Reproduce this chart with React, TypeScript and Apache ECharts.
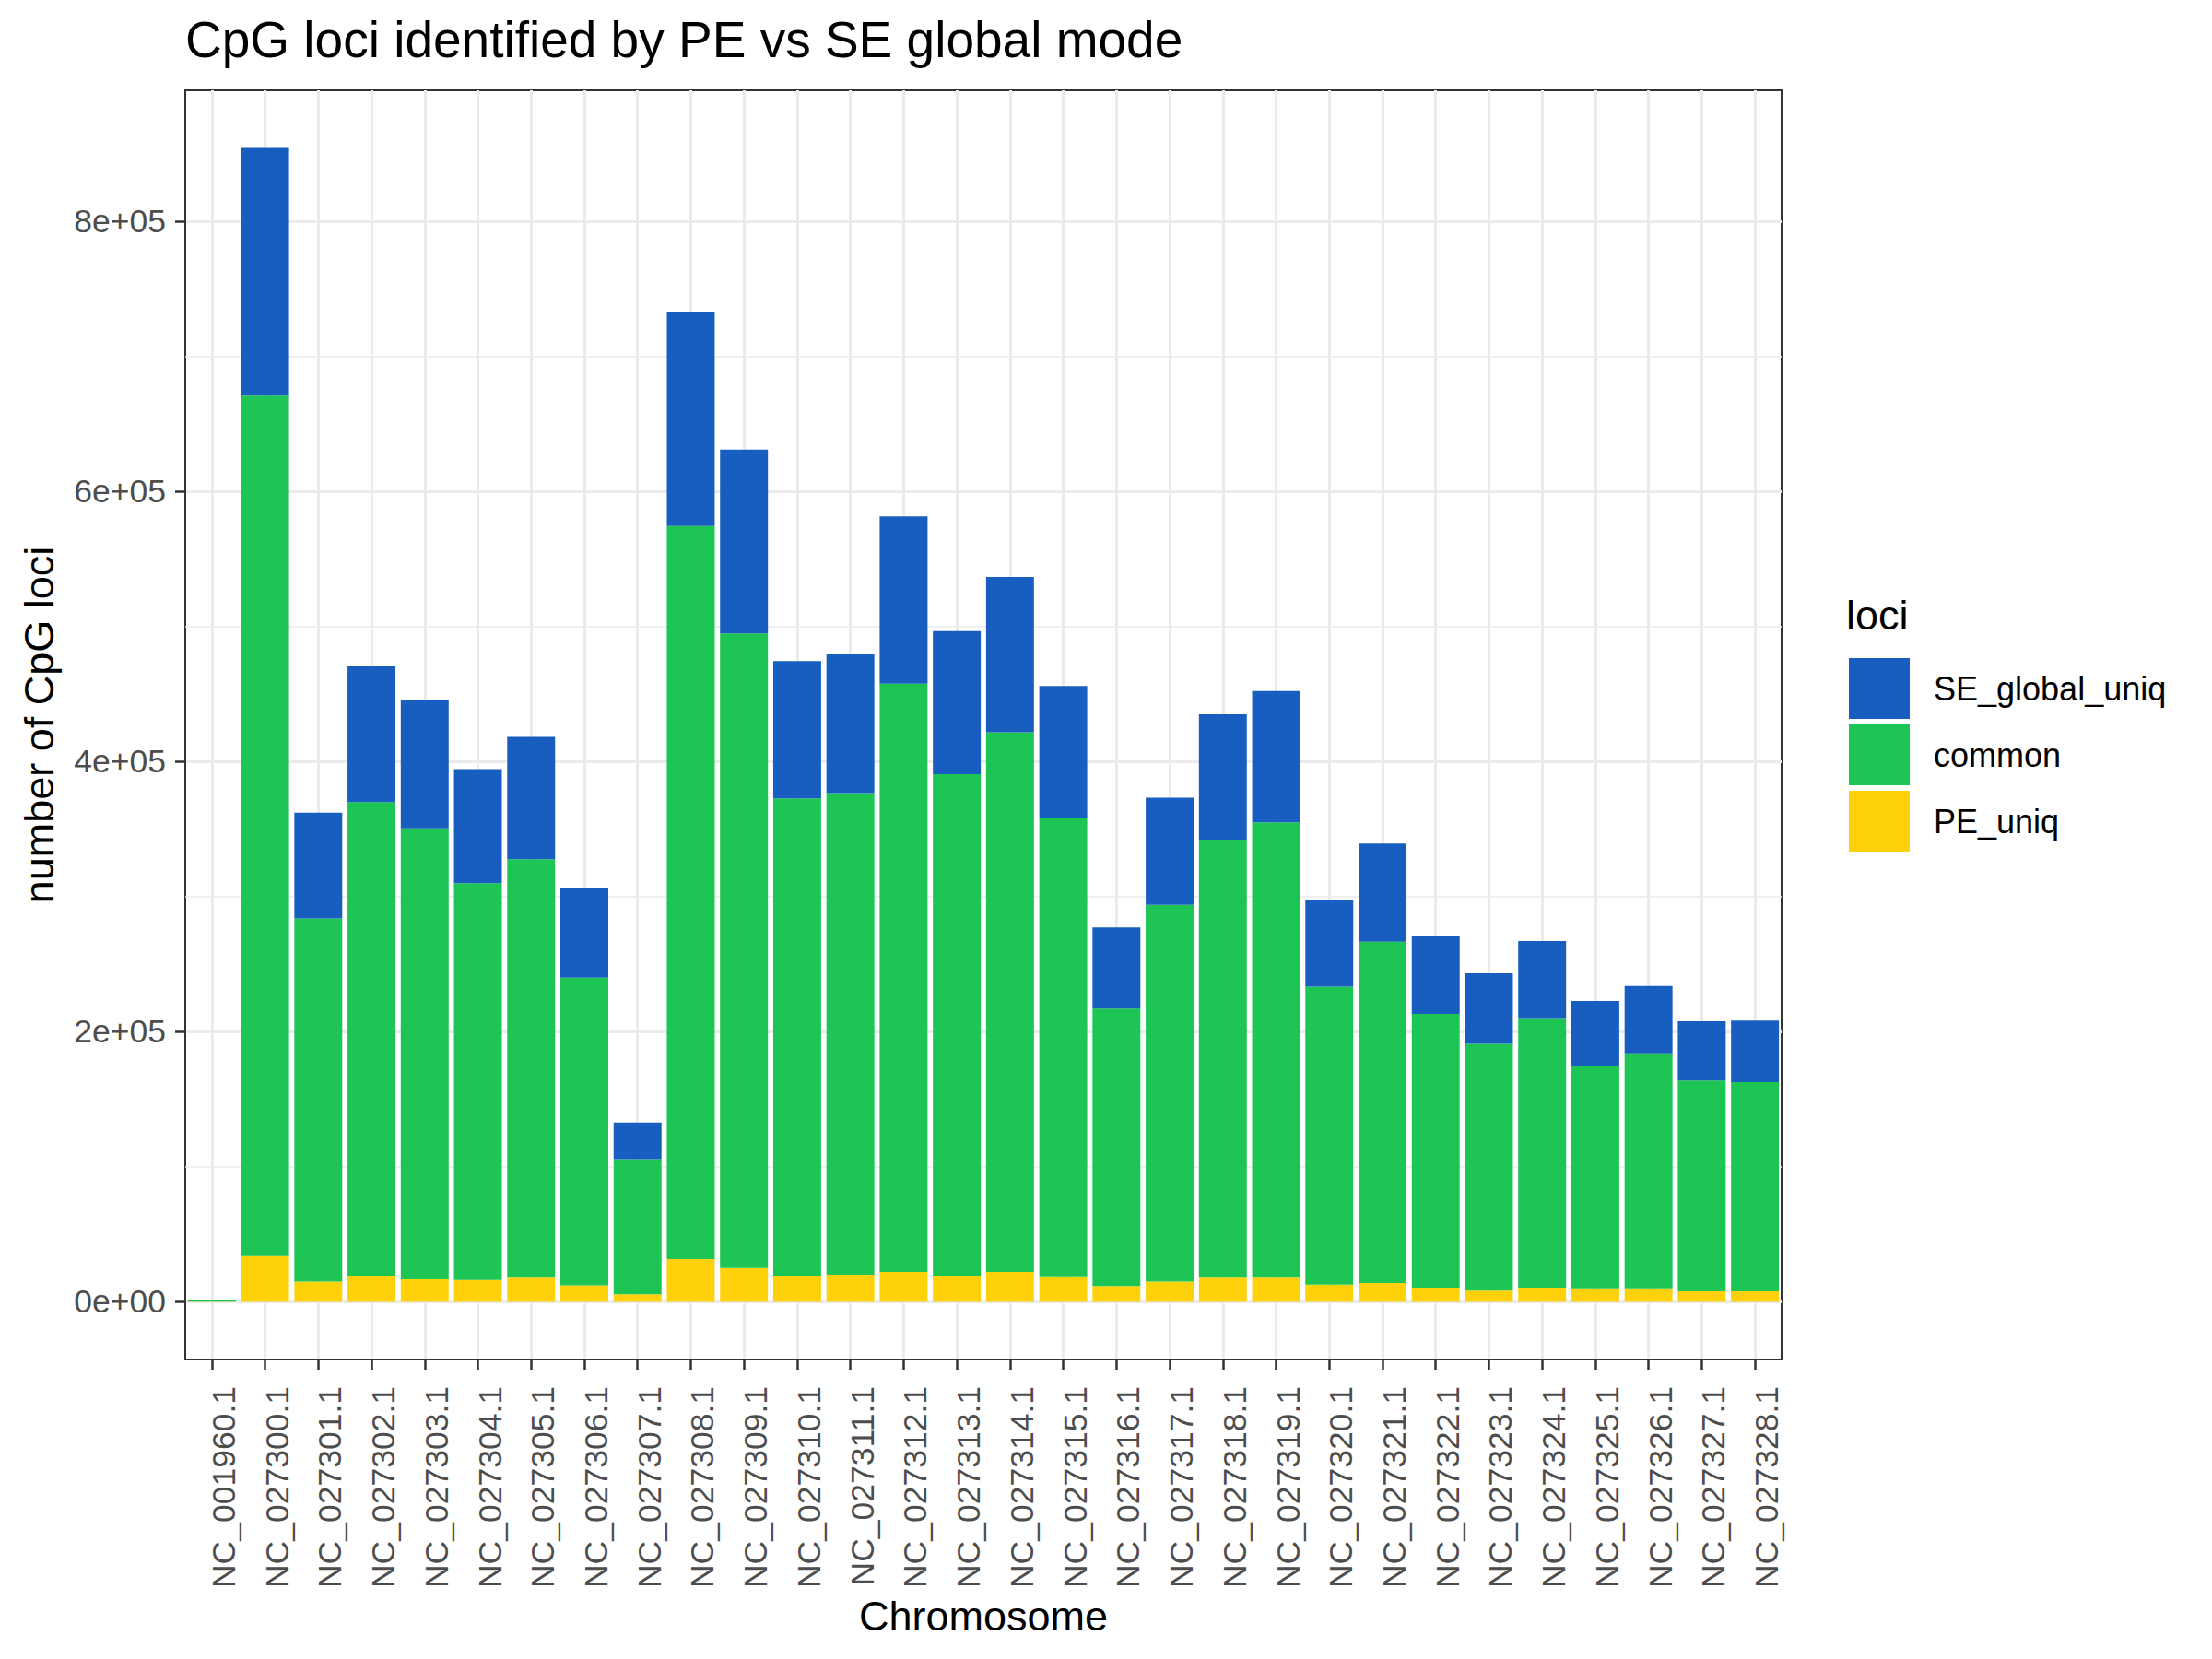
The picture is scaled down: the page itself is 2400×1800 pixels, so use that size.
import React, { useEffect, useRef } from "react";
import * as echarts from "echarts";

const categories = [
  "NC_001960.1", "NC_027300.1", "NC_027301.1", "NC_027302.1", "NC_027303.1",
  "NC_027304.1", "NC_027305.1", "NC_027306.1", "NC_027307.1", "NC_027308.1",
  "NC_027309.1", "NC_027310.1", "NC_027311.1", "NC_027312.1", "NC_027313.1",
  "NC_027314.1", "NC_027315.1", "NC_027316.1", "NC_027317.1", "NC_027318.1",
  "NC_027319.1", "NC_027320.1", "NC_027321.1", "NC_027322.1", "NC_027323.1",
  "NC_027324.1", "NC_027325.1", "NC_027326.1", "NC_027327.1", "NC_027328.1",
];

const peUniq = [
  40, 33900, 15000, 19400, 16700, 16100, 17800, 12200, 5600, 31700,
  25000, 19400, 20000, 22200, 19400, 22200, 18900, 11700, 15000, 17800,
  17800, 12800, 13900, 10600, 8300, 10000, 9400, 9400, 7800, 7800,
];

const common = [
  1500, 637200, 268900, 350600, 333900, 293900, 310000, 227800, 99400, 542700,
  470000, 353400, 356700, 435600, 371200, 399500, 339400, 205500, 278900, 324400,
  337200, 220500, 252800, 202700, 182800, 199400, 165000, 173900, 156100, 155000,
];

const seGlobalUniq = [
  120, 183300, 78300, 100600, 95000, 84500, 90500, 66100, 27800, 158900,
  136100, 101600, 102700, 123900, 106100, 115000, 97800, 60000, 79400, 92800,
  97200, 64500, 72700, 57300, 52200, 57800, 48400, 50600, 43900, 45500,
];

const yTicks = [0, 200000, 400000, 600000, 800000];
const yTickLabels = ["0e+00", "2e+05", "4e+05", "6e+05", "8e+05"];
const yMinorTicks = [100000, 300000, 500000, 700000];

const seriesNames = ["SE_global_uniq", "common", "PE_uniq"];
const colors: Record<string, string> = {
  SE_global_uniq: "#175EC0",
  common: "#1DC554",
  PE_uniq: "#FED10B",
};

const FONT = "'Liberation Sans', Arial, Helvetica, sans-serif";

export default function App() {
  const ref = useRef<HTMLDivElement>(null);

  useEffect(() => {
    if (!ref.current) return;
    const chart = echarts.init(ref.current, undefined, { renderer: "svg" });

    const totals = categories.map((_, i) => peUniq[i] + common[i] + seGlobalUniq[i]);
    const maxTotal = Math.max(...totals);
    const yMin = -0.05 * maxTotal;
    const yMax = 1.05 * maxTotal;

    const option: any = {
      animation: false,
      backgroundColor: "#ffffff",
      textStyle: { fontFamily: FONT },
      title: [
        {
          text: "CpG loci identified by PE vs SE global mode",
          left: 201,
          top: 15,
          padding: 0,
          textStyle: { fontSize: 55, fontWeight: "normal", color: "#000000", fontFamily: FONT },
        },
        {
          text: "loci",
          left: 2003,
          top: 645,
          padding: 0,
          textStyle: { fontSize: 45, fontWeight: "normal", color: "#000000", fontFamily: FONT },
        },
      ],
      legend: {
        orient: "vertical",
        left: 2006,
        top: 714,
        padding: 0,
        itemWidth: 66,
        itemHeight: 66,
        itemGap: 6,
        icon: "rect",
        data: seriesNames,
        textStyle: { fontSize: 36, color: "#000000", fontFamily: FONT, padding: [0, 0, 0, 21] },
      },
      grid: {
        left: 201,
        right: 467,
        top: 98,
        bottom: 325,
        show: true,
        backgroundColor: "#ffffff",
        borderColor: "#333333",
        borderWidth: 2,
      },
      xAxis: {
        type: "category",
        data: categories,
        name: "Chromosome",
        nameLocation: "middle",
        nameGap: 249,
        nameTextStyle: { fontSize: 45, color: "#000000", fontFamily: FONT },
        axisLine: { show: true, onZero: false, lineStyle: { color: "#333333", width: 2 } },
        axisTick: {
          show: true,
          alignWithLabel: true,
          interval: 0,
          length: 11,
          lineStyle: { color: "#333333", width: 2.5 },
        },
        axisLabel: {
          rotate: 90,
          interval: 0,
          margin: 29,
          fontSize: 35.5,
          color: "#4D4D4D",
          fontFamily: FONT,
          verticalAlign: "top",
          lineHeight: 26,
        },
        splitLine: {
          show: true,
          interval: 0,
          alignWithLabel: true,
          lineStyle: { color: "#EBEBEB", width: 3 },
        },
      },
      yAxis: {
        type: "value",
        min: yMin,
        max: yMax,
        name: "number of CpG loci",
        nameLocation: "middle",
        nameGap: 136,
        nameRotate: 90,
        nameTextStyle: { fontSize: 45, color: "#000000", fontFamily: FONT },
        axisLine: { show: true, lineStyle: { color: "#333333", width: 2 } },
        axisTick: {
          show: true,
          length: 11,
          customValues: yTicks,
          lineStyle: { color: "#333333", width: 2.5 },
        },
        axisLabel: {
          customValues: yTicks,
          margin: 21,
          fontSize: 35.5,
          color: "#4D4D4D",
          fontFamily: FONT,
          formatter: (v: number) => {
            const idx = yTicks.indexOf(v);
            return idx >= 0 ? yTickLabels[idx] : "";
          },
        },
        splitLine: { show: true, lineStyle: { color: "#EBEBEB", width: 3 } },
      },
      series: [
        {
          name: "PE_uniq",
          type: "bar",
          stack: "loci",
          data: peUniq,
          barCategoryGap: "10%",
          itemStyle: { color: colors.PE_uniq },
          markLine: {
            silent: true,
            symbol: "none",
            z: 1,
            label: { show: false },
            lineStyle: { color: "#EBEBEB", width: 1.5, type: "solid" },
            data: yMinorTicks.map((v) => ({ yAxis: v })),
          },
        },
        {
          name: "common",
          type: "bar",
          stack: "loci",
          data: common,
          barCategoryGap: "10%",
          itemStyle: { color: colors.common },
        },
        {
          name: "SE_global_uniq",
          type: "bar",
          stack: "loci",
          data: seGlobalUniq,
          barCategoryGap: "10%",
          itemStyle: { color: colors.SE_global_uniq },
        },
      ],
    };

    chart.setOption(option);
    return () => chart.dispose();
  }, []);

  return (
    <div
      ref={ref}
      style={{ position: "absolute", left: 0, top: 0, width: 2400, height: 1800 }}
    />
  );
}
